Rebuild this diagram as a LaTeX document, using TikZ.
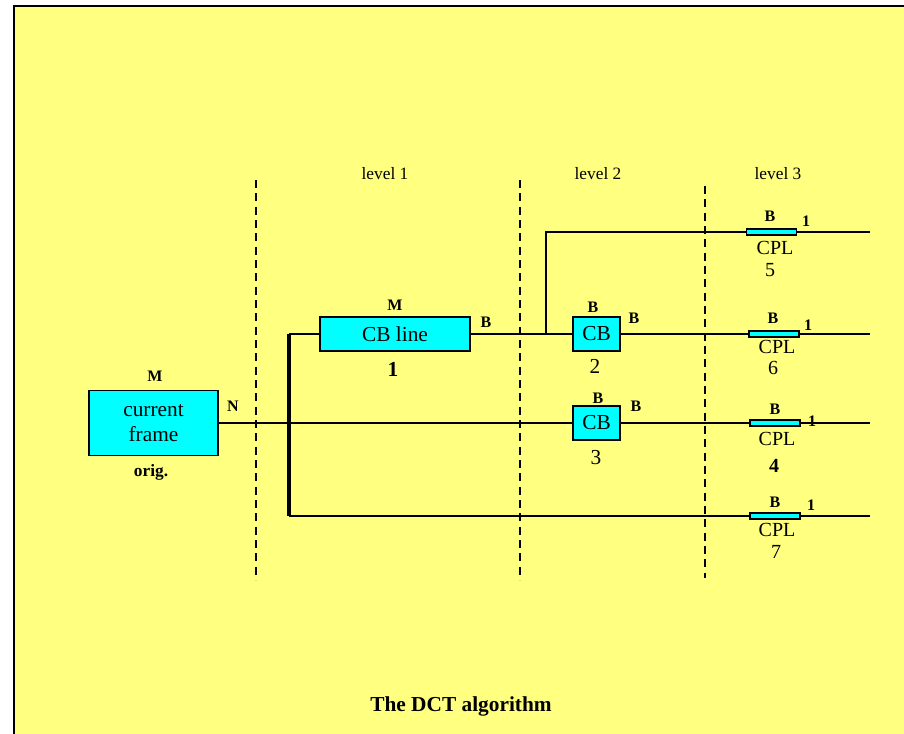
\documentclass[tikz,border=0pt]{standalone}
\usepackage{fontspec}
\setmainfont{Liberation Serif}
\usepackage{xcolor}
\definecolor{pageyellow}{HTML}{FFFF80}
\definecolor{boxcyan}{HTML}{00FFFF}

\begin{document}
\begin{tikzpicture}[x=0.75pt,y=-0.75pt,
  blockbox/.style={draw,fill=boxcyan,line width=1pt,inner sep=0pt,align=center,font=\fontsize{16}{19}\selectfont},
  cplbar/.style={draw,fill=boxcyan,line width=1pt,inner sep=0pt,minimum width=37.5pt,minimum height=4.5pt},
  tag/.style={inner sep=0pt,font=\fontsize{12}{14}\selectfont\bfseries},
  bigtag/.style={inner sep=0pt,font=\fontsize{16}{19}\selectfont},
  cpltag/.style={inner sep=0pt,font=\fontsize{15}{17}\selectfont},
  leveltag/.style={inner sep=0pt,font=\fontsize{13}{15}\selectfont},
  wire/.style={line width=1pt},
  divider/.style={line width=0.9pt,dash pattern=on 6pt off 4pt}]
\useasboundingbox (0,0) rectangle (904,734);
\fill[white] (0,0) rectangle (904,734);
\fill[pageyellow] (14,6) rectangle (904,734);
\draw[line width=1.5pt] (14,734) -- (14,6) -- (904,6);
% level dividers
\draw[divider] (256,180) -- (256,580);
\draw[divider] (520,180) -- (520,580);
\draw[divider] (705,186) -- (705,578);
\node[leveltag] (levelone) at (385,174) {level 1};
\node[leveltag] (leveltwo) at (598,174) {level 2};
\node[leveltag] (levelthree) at (778,174) {level 3};
% blocks
\node[blockbox,minimum width=96.75pt,minimum height=48.75pt] (frame) at (153.5,423) {current\\frame};
\node[blockbox,minimum width=112.5pt,minimum height=25.5pt] (cbline) at (395,334) {CB line};
\node[blockbox,minimum width=35.25pt,minimum height=25.5pt] (cbtwo) at (596.5,334) {CB};
\node[blockbox,minimum width=35.25pt,minimum height=25.5pt] (cbthree) at (596.5,423) {CB};
\node[cplbar] (cplfive) at (771.5,232) {};
\node[cplbar] (cplsix) at (774,334) {};
\node[cplbar] (cplfour) at (775,423) {};
\node[cplbar] (cplseven) at (775,516) {};
% connectors
\coordinate (bartop) at (289,334);
\coordinate (barbottom) at (289,516);
\coordinate (branch) at (546,334);
\coordinate (bend) at (546,232);
\coordinate (endfive) at (870,232);
\coordinate (endsix) at (870,334);
\coordinate (endfour) at (870,423);
\coordinate (endseven) at (870,516);
\draw[wire] (frame.east) -- (cbthree.west);
\draw[wire] (cbthree.east) -- (cplfour.west);
\draw[wire] (cplfour.east) -- (endfour);
\draw[line width=3pt] (bartop) -- (barbottom);
\draw[wire] (bartop) -- (cbline.west);
\draw[wire] (cbline.east) -- (cbtwo.west);
\draw[wire] (cbtwo.east) -- (cplsix.west);
\draw[wire] (cplsix.east) -- (endsix);
\draw[wire] (branch) -- (bend) -- (cplfive.west);
\draw[wire] (cplfive.east) -- (endfive);
\draw[wire] (barbottom) -- (cplseven.west);
\draw[wire] (cplseven.east) -- (endseven);
% labels
\node[tag] (frameM) at (155,376) {M};
\node[tag] (frameN) at (233,406) {N};
\node[tag,font=\fontsize{13}{15}\selectfont\bfseries] (frameorig) at (151,472) {orig.};
\node[tag] (cblineM) at (395,305) {M};
\node[tag] (cblineB) at (486,322) {B};
\node[bigtag,font=\fontsize{16}{19}\selectfont\bfseries] (cblinenum) at (393,369) {1};
\node[tag] (cbtwoB) at (593,307) {B};
\node[tag] (cbtwoBout) at (634,318) {B};
\node[bigtag] (cbtwonum) at (595,366) {2};
\node[tag] (cbthreeB) at (598,398) {B};
\node[tag] (cbthreeBout) at (636,406) {B};
\node[bigtag] (cbthreenum) at (596,458) {3};
\node[tag] (cplfiveB) at (770,216) {B};
\node[tag] (cplfiveone) at (806,221) {1};
\node[cpltag] (cplfivename) at (775,248) {CPL};
\node[cpltag] (cplfivenum) at (770,270) {5};
\node[tag] (cplsixB) at (773,318) {B};
\node[tag] (cplsixone) at (808,325) {1};
\node[cpltag] (cplsixname) at (777,347) {CPL};
\node[cpltag] (cplsixnum) at (773,368) {6};
\node[tag] (cplfourB) at (775,409) {B};
\node[tag] (cplfourone) at (812,421) {1};
\node[cpltag] (cplfourname) at (777,439) {CPL};
\node[cpltag,font=\fontsize{15}{17}\selectfont\bfseries] (cplfournum) at (774,466) {4};
\node[tag] (cplsevenB) at (775,502) {B};
\node[tag] (cplsevenone) at (811,505) {1};
\node[cpltag] (cplsevenname) at (777,530) {CPL};
\node[cpltag] (cplsevennum) at (776,552) {7};
\node[inner sep=0pt,font=\fontsize{16}{19}\selectfont\bfseries] (title) at (461,706) {The DCT algorithm};
\end{tikzpicture}
\end{document}
